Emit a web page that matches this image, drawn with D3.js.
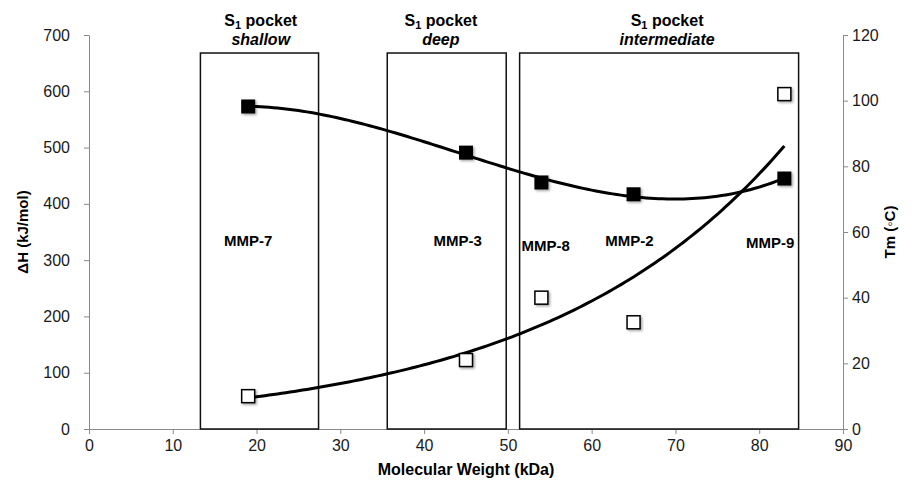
<!DOCTYPE html>
<html>
<head>
<meta charset="utf-8">
<script src="https://cdn.jsdelivr.net/npm/d3@7"></script>
<style>
  body { margin: 0; background: #fff; }
  text { font-family: "Liberation Sans", Arial, sans-serif; }
  .axis path, .axis line { stroke: #8a8a8a; }
  .axis text { font-size: 16px; fill: #1a1a1a; }
</style>
</head>
<body>
<div id="plot"></div>
<script>
// molecular weight (kDa) of each enzyme
var enzymes = ['MMP-7', 'MMP-3', 'MMP-8', 'MMP-2', 'MMP-9'];
var mw = [19, 45, 54, 65, 83];
// enthalpy (left axis) and melting temperature (right axis)
var deltaH = [573, 491, 438, 417, 445];
var tm = [10, 21, 40, 32.5, 102];

// S1 pocket groups, in kDa
var pocketNames = ['shallow', 'deep', 'intermediate'];
var pocketStart = [13.3, 35.6, 51.4];
var pocketEnd = [27.4, 49.8, 84.7];
var pocketTop = 668;

var xTicks = d3.range(0, 91, 10);
var yLeftTicks = d3.range(0, 701, 100);
var yRightTicks = d3.range(0, 121, 20);

var W = 912, H = 483;
var svg = d3.select('#plot').append('svg')
	.attr('width', W)
	.attr('height', H);

var x = d3.scaleLinear().domain([0, 90]).range([89, 843]);
var yL = d3.scaleLinear().domain([0, 700]).range([429, 35]);
var yR = d3.scaleLinear().domain([0, 120]).range([429, 35]);

// marker shadow
var defs = svg.append('defs');
var f = defs.append('filter').attr('id', 'shadow')
	.attr('x', '-50%').attr('y', '-50%').attr('width', '200%').attr('height', '200%');
f.append('feDropShadow').attr('dx', 1.5).attr('dy', 1.5).attr('stdDeviation', 1.2)
	.attr('flood-color', '#000').attr('flood-opacity', 0.35);

// axes
svg.append('g').attr('class', 'axis')
	.attr('transform', 'translate(0,' + yL(0) + ')')
	.call(d3.axisBottom(x).tickValues(xTicks).tickSize(5).tickSizeOuter(0).tickPadding(6));
svg.append('g').attr('class', 'axis')
	.attr('transform', 'translate(' + x(0) + ',0)')
	.call(d3.axisLeft(yL).tickValues(yLeftTicks).tickSize(5).tickSizeOuter(0).tickPadding(14));
svg.append('g').attr('class', 'axis')
	.attr('transform', 'translate(' + x(90) + ',0)')
	.call(d3.axisRight(yR).tickValues(yRightTicks).tickSize(5).tickSizeOuter(0).tickPadding(4));

// axis titles
svg.append('text')
	.attr('x', (x(0) + x(90)) / 2).attr('y', 475)
	.attr('text-anchor', 'middle')
	.style('font-size', '16px').style('font-weight', 'bold')
	.text('Molecular Weight (kDa)');
svg.append('text')
	.attr('transform', 'translate(28,' + yL(350) + ') rotate(-90)')
	.attr('text-anchor', 'middle')
	.style('font-size', '15px').style('font-weight', 'bold')
	.text('\u0394H (kJ/mol)');
svg.append('text')
	.attr('transform', 'translate(895,' + yL(350) + ') rotate(-90)')
	.attr('text-anchor', 'middle')
	.style('font-size', '15px').style('font-weight', 'bold')
	.text('Tm (\u25E6C)');

// pocket boxes
svg.selectAll('.pocket')
	.data(pocketNames)
	.enter()
	.append('rect')
	.attr('class', 'pocket')
	.attr('x', function (d, i) { return x(pocketStart[i]); })
	.attr('y', yL(pocketTop))
	.attr('width', function (d, i) { return x(pocketEnd[i]) - x(pocketStart[i]); })
	.attr('height', yL(0) - yL(pocketTop))
	.style('fill', 'none')
	.style('stroke', '#111')
	.style('stroke-width', 1.5);

var labelX = [20.5, 42, 69];
var pl = svg.selectAll('.plabel')
	.data(pocketNames)
	.enter()
	.append('g')
	.attr('class', 'plabel')
	.attr('transform', function (d, i) { return 'translate(' + x(labelX[i]) + ',0)'; });
var t1 = pl.append('text')
	.attr('y', 26).attr('text-anchor', 'middle')
	.style('font-size', '16px').style('font-weight', 'bold');
t1.append('tspan').text('S');
t1.append('tspan').attr('dy', 3).style('font-size', '11px').text('1');
t1.append('tspan').attr('dy', -3).text(' pocket');
pl.append('text')
	.attr('y', 45).attr('text-anchor', 'middle')
	.style('font-size', '16px').style('font-weight', 'bold').style('font-style', 'italic')
	.text(function (d) { return d; });

// enzyme labels
var enzX = [19, 44, 54.5, 64.5, 81.3];
var enzDy = [0, 0, 5, 0, 2];
svg.selectAll('.elabel')
	.data(enzymes)
	.enter()
	.append('text')
	.attr('class', 'elabel')
	.attr('x', function (d, i) { return x(enzX[i]); })
	.attr('y', function (d, i) { return 246 + enzDy[i]; })
	.attr('text-anchor', 'middle')
	.style('font-size', '15px').style('font-weight', 'bold')
	.text(function (d) { return d; });

// least squares trendlines
function polyfit(xs, ys, order) {
	var n = order + 1, A = [], b = [];
	for (var r = 0; r < n; r++) {
		A.push([]);
		for (var c = 0; c < n; c++) {
			A[r].push(d3.sum(xs, function (v) { return Math.pow(v, r + c); }));
		}
		b.push(d3.sum(xs, function (v, k) { return ys[k] * Math.pow(v, r); }));
	}
	for (var p = 0; p < n; p++) {
		for (var q = p + 1; q < n; q++) {
			var m = A[q][p] / A[p][p];
			for (var c2 = p; c2 < n; c2++) A[q][c2] -= m * A[p][c2];
			b[q] -= m * b[p];
		}
	}
	var coef = new Array(n);
	for (var i = n - 1; i >= 0; i--) {
		var s = b[i];
		for (var j = i + 1; j < n; j++) s -= A[i][j] * coef[j];
		coef[i] = s / A[i][i];
	}
	return function (v) {
		return d3.sum(coef, function (cf, k) { return cf * Math.pow(v, k); });
	};
}
function expfit(xs, ys) {
	var ly = ys.map(Math.log);
	var lin = polyfit(xs, ly, 1);
	return function (v) { return Math.exp(lin(v)); };
}

var hFit = polyfit(mw, deltaH, 3);
var tFit = expfit(mw, tm);
var xs = d3.range(mw[0], mw[mw.length - 1] + 0.01, 0.5);

svg.append('path')
	.datum(xs)
	.attr('d', d3.line().x(function (d) { return x(d); }).y(function (d) { return yL(hFit(d)); }))
	.style('fill', 'none').style('stroke', '#000').style('stroke-width', 3);
svg.append('path')
	.datum(xs)
	.attr('d', d3.line().x(function (d) { return x(d); }).y(function (d) { return yR(tFit(d)); }))
	.style('fill', 'none').style('stroke', '#000').style('stroke-width', 3);

// markers
svg.selectAll('.hpt')
	.data(deltaH)
	.enter()
	.append('rect')
	.attr('class', 'hpt')
	.attr('x', function (d, i) { return x(mw[i]) - 7; })
	.attr('y', function (d) { return yL(d) - 7; })
	.attr('width', 14).attr('height', 14)
	.style('fill', '#000')
	.attr('filter', 'url(#shadow)');

svg.selectAll('.tpt')
	.data(tm)
	.enter()
	.append('rect')
	.attr('class', 'tpt')
	.attr('x', function (d, i) { return x(mw[i]) - 6.5; })
	.attr('y', function (d) { return yR(d) - 6.5; })
	.attr('width', 13).attr('height', 13)
	.style('fill', '#fff').style('stroke', '#000').style('stroke-width', 1.5)
	.attr('filter', 'url(#shadow)');
</script>
</body>
</html>
